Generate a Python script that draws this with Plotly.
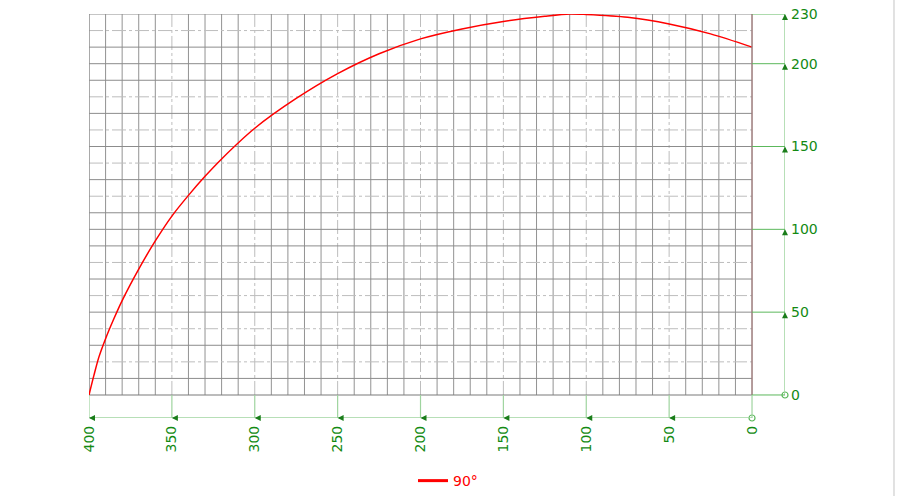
import plotly.graph_objects as go

# ---- data ----
x_vals = [400, 397, 394, 390, 385, 380, 370, 360, 350, 340, 330, 320, 300, 275,
          250, 225, 200, 175, 150, 125, 110, 100, 75, 50, 25, 0]
y_vals = [0, 12, 23, 34, 46, 57, 76, 93, 108, 120.5, 132, 142.5, 161, 179,
          194, 206, 215, 221, 225.5, 228.6, 230, 229.7, 228, 224, 218, 210]
series_name = "90°"
x_ticks = [400, 350, 300, 250, 200, 150, 100, 50, 0]
y_ticks = [0, 50, 100, 150, 200, 230]

X_MAX, X_MIN = 400, 0
Y_MIN, Y_MAX = 0, 230
X_END = -19.9     # where the right (y) axis sits
Y_END = -13.9     # where the bottom (x) axis sits

GREEN_TXT = "#138a13"
GREEN_LIGHT = "#9fd49f"
GREEN_MID = "#5cb85c"
GREEN_DARK = "#1a7d1a"

fig = go.Figure()
fig.add_trace(go.Scatter(x=x_vals, y=y_vals, mode="lines", name=series_name,
                         line=dict(color="#ff0000", width=1.5, shape="spline", smoothing=0.8),
                         showlegend=False, legendgroup="s"))
# legend entry (thicker sample line, as in the reference)
fig.add_trace(go.Scatter(x=[None], y=[None], mode="lines", name=series_name,
                         line=dict(color="#ff0000", width=3), showlegend=True, legendgroup="s"))

shapes = []
# grid
for v in range(X_MIN + 10, X_MAX, 10):
    if v % 50 == 0:
        ln = dict(color="#bdbdbd", width=1, dash="14px,3px,3px,3px")
    else:
        ln = dict(color="#929292", width=1)
    shapes.append(dict(type="line", xref="x", yref="y", x0=v, x1=v, y0=Y_MIN, y1=Y_MAX,
                       line=ln, layer="below"))
for v in range(Y_MIN + 10, Y_MAX, 10):
    if v % 20 == 10 or v % 50 == 0:
        ln = dict(color="#8c8c8c", width=1)
    else:
        ln = dict(color="#bdbdbd", width=1, dash="14px,3px,3px,3px")
    shapes.append(dict(type="line", xref="x", yref="y", x0=X_MAX, x1=X_MIN, y0=v, y1=v,
                       line=ln, layer="below"))
# frame
shapes.append(dict(type="line", x0=X_MAX, x1=X_MIN, y0=Y_MAX, y1=Y_MAX, line=dict(color="#8c8c8c", width=1.2), layer="below"))
shapes.append(dict(type="line", x0=X_MAX, x1=X_MIN, y0=Y_MIN, y1=Y_MIN, line=dict(color="#7a7a7a", width=1.2), layer="below"))
shapes.append(dict(type="line", x0=X_MAX, x1=X_MAX, y0=Y_MIN, y1=Y_MAX, line=dict(color="#8c8c8c", width=1.5), layer="below"))
shapes.append(dict(type="line", x0=X_MIN, x1=X_MIN, y0=Y_MIN, y1=Y_MAX, line=dict(color="#9b7b7b", width=1.5), layer="above"))

# green axes
shapes.append(dict(type="line", x0=X_END, x1=X_END, y0=Y_MIN, y1=Y_MAX, line=dict(color=GREEN_LIGHT, width=1.5)))
shapes.append(dict(type="line", x0=X_MAX, x1=X_MIN, y0=Y_END, y1=Y_END, line=dict(color=GREEN_LIGHT, width=1.5)))
for v in y_ticks:
    shapes.append(dict(type="line", x0=X_MIN, x1=X_END, y0=v, y1=v, line=dict(color=GREEN_MID, width=1)))
for v in x_ticks:
    shapes.append(dict(type="line", x0=v, x1=v, y0=Y_END, y1=Y_MIN, line=dict(color=GREEN_LIGHT, width=1.2)))
# outer light frame line at right
shapes.append(dict(type="line", xref="paper", yref="paper", x0=1.1566, x1=1.1566, y0=-0.25, y1=1.05,
                   line=dict(color="#d8d8d8", width=1.5)))

annotations = []
for v in y_ticks:
    if v == 0:
        continue
    annotations.append(dict(x=X_END, y=v, xref="x", yref="y", text="", showarrow=True,
                            ax=0, ay=7, arrowhead=2, arrowsize=1.2, arrowwidth=1,
                            arrowcolor=GREEN_DARK))
for v in x_ticks:
    if v == 0:
        continue
    annotations.append(dict(x=v, y=Y_END, xref="x", yref="y", text="", showarrow=True,
                            ax=7, ay=0, arrowhead=2, arrowsize=1.2, arrowwidth=1,
                            arrowcolor=GREEN_DARK))

fig.add_trace(go.Scatter(x=[X_END, X_MIN], y=[Y_MIN, Y_END], mode="markers",
                         marker=dict(symbol="circle-open", size=6, color=GREEN_MID, line=dict(width=1.2)),
                         showlegend=False, hoverinfo="skip", cliponaxis=False))

fig.update_layout(
    width=898, height=496,
    margin=dict(l=89, r=113, t=14, b=78, autoexpand=False),
    paper_bgcolor="white", plot_bgcolor="white",
    shapes=shapes, annotations=annotations,
    font=dict(family="DejaVu Sans", size=14, color=GREEN_TXT),
    xaxis=dict(range=[X_MAX, X_END], tickvals=x_ticks, ticktext=[str(t) for t in x_ticks],
               tickangle=-90, showgrid=False, zeroline=False, showline=False, ticks="",
               automargin=False, ticklabelstandoff=4, ticklabeloverflow="allow",
               tickfont=dict(color=GREEN_TXT, size=14)),
    yaxis=dict(range=[Y_END, Y_MAX], tickvals=y_ticks, ticktext=[str(t) for t in y_ticks],
               side="right", showgrid=False, zeroline=False, showline=False, ticks="",
               automargin=False, ticklabelstandoff=5, ticklabeloverflow="allow",
               tickfont=dict(color=GREEN_TXT, size=14)),
    legend=dict(orientation="h", x=0.4655, xanchor="left", y=-0.156, yanchor="middle",
                font=dict(color="#ff0000", size=14, family="DejaVu Sans"),
                bgcolor="rgba(0,0,0,0)"),
    showlegend=True,
)

fig.write_html("out.html", config={"displayModeBar": False},
               post_script="document.body.style.margin='0';")
